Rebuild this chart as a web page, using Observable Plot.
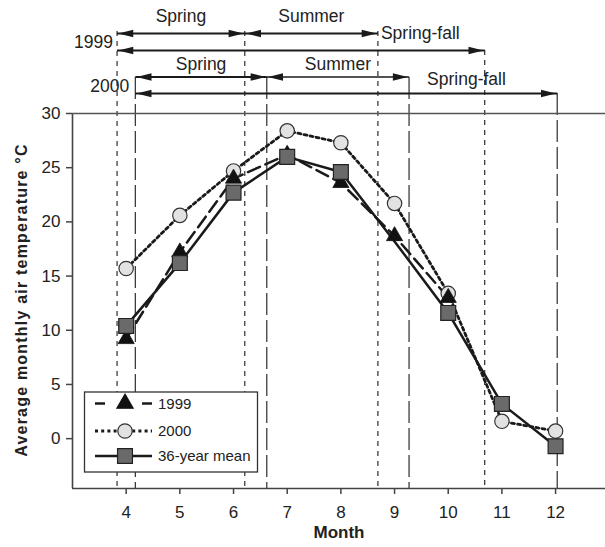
<!DOCTYPE html>
<html><head><meta charset="utf-8">
<script src="https://cdn.jsdelivr.net/npm/d3@7"></script>
<script src="https://cdn.jsdelivr.net/npm/@observablehq/plot@0.6"></script>
<style>
body{margin:0;background:#fff}
#chart svg{display:block}
</style>
</head><body><div id="chart"></div>
<script>
// ---- data ----
const months = [4, 5, 6, 7, 8, 9, 10, 11, 12];
const temp1999 = [9.2, 17.2, 24.0, 26.2, 23.6, 18.7, 13.0];           // months 4-10
const temp2000 = [15.7, 20.6, 24.7, 28.4, 27.3, 21.7, 13.4, 1.6, 0.7];
const tempMean = [10.4, 16.2, 22.7, 26.0, 24.6, 18.2, 11.6, 3.2, -0.7];
const bounds1999 = [3.83, 6.21, 8.69, 10.68]; // spring start, summer start, summer end, spring-fall end
const bounds2000 = [4.17, 6.62, 9.27, 12.03];
const seasonNames = ["Spring", "Summer", "Spring-fall"];
const yearNames = ["1999", "2000"];
const seriesNames = ["1999", "2000", "36-year mean"];
const yTitle = "Average monthly air temperature °C";
const xTitle = "Month";
const yTicks = [0, 5, 10, 15, 20, 25, 30];
const xTicks = months;
const xDomain = [3, 12.93];
const yDomain = [-4.6, 30];

// ---- tables ----
const s1999 = temp1999.map((t, i) => ({month: months[i], t}));
const s2000 = temp2000.map((t, i) => ({month: months[i], t}));
const sMean = tempMean.map((t, i) => ({month: months[i], t}));
const yTop = yDomain[1];

const ink = "#1a1a1a";
const font = "'Liberation Sans', Arial, sans-serif";
const headR = {draw(ctx){ctx.moveTo(0,0);ctx.lineTo(-15,-3.8);ctx.lineTo(-15,3.8);ctx.closePath();}};
const headL = {draw(ctx){ctx.moveTo(0,0);ctx.lineTo(15,-3.8);ctx.lineTo(15,3.8);ctx.closePath();}};

function arrow(x1, x2, dy, sw) {
  const d = [{x1, x2}];
  return [
    Plot.link(d, {x1: "x1", x2: "x2", y1: () => yTop, y2: () => yTop, dy, stroke: ink, strokeWidth: sw}),
    Plot.dot(d, {x: "x2", y: () => yTop, dy, dx: -1.2, symbol: headR, fill: ink, stroke: "none"}),
    Plot.dot(d, {x: "x1", y: () => yTop, dy, dx: 1.2, symbol: headL, fill: ink, stroke: "none"})
  ];
}

function yearMarks(year, b, o, dash) {
  const labels = [
    {x: (b[0] + b[1]) / 2, text: seasonNames[0]},
    {x: (b[1] + b[2]) / 2, text: seasonNames[1]}
  ];
  return [
    Plot.ruleX(b.slice(0, 3), {insetTop: o.ruleTop, stroke: ink, strokeWidth: 1.1, strokeDasharray: dash}),
    Plot.ruleX([b[3]], {insetTop: o.ruleEnd, stroke: ink, strokeWidth: 1.1, strokeDasharray: dash}),
    ...arrow(b[0], b[1], o.row1, 2),
    ...arrow(b[1], b[2], o.row1, o.sumW),
    ...arrow(b[0], b[3], o.row2, 2.2),
    Plot.text(labels, {x: "x", y: () => yTop, dy: o.lab, text: "text", fontSize: 17.5, fill: "#222"}),
    Plot.text([{x: b[2], text: seasonNames[2]}], {x: "x", y: () => yTop, dy: o.sf, dx: o.sfDx, text: "text", textAnchor: "start", fontSize: 17.5, fill: "#222"}),
    Plot.text([{x: b[0], text: year}], {x: "x", y: () => yTop, dy: o.yr, dx: o.yrDx, text: "text", textAnchor: "end", fontSize: 17.5, fill: "#222"})
  ];
}

const plot = Plot.plot({
  width: 605,
  height: 547,
  marginLeft: 72,
  marginRight: 0,
  marginTop: 113,
  marginBottom: 59,
  x: {domain: xDomain},
  y: {domain: yDomain},
  style: {fontFamily: font, color: "#333", background: "white"},
  marks: [
    // boundaries and season annotations
    ...yearMarks(yearNames[0], bounds1999, {ruleTop: -82, ruleEnd: -63, row1: -80, row2: -63, lab: -97, sf: -80, sfDx: 3, yr: -71, yrDx: -4, sumW: 2}, "5,5"),
    ...yearMarks(yearNames[1], bounds2000, {ruleTop: -36, ruleEnd: -20, row1: -36.5, row2: -20, lab: -49, sf: -34, sfDx: 18, yr: -27.5, yrDx: -6, sumW: 1.5}, "22,5"),
    // axes frame
    Plot.ruleX([xDomain[0]], {stroke: "#444", strokeWidth: 1.6}),
    Plot.ruleY([yDomain[0]], {stroke: "#444", strokeWidth: 1.6}),
    Plot.ruleY([yDomain[1]], {stroke: "#555", strokeWidth: 1.6}),
    Plot.axisY({ticks: yTicks, tickSize: 6, tickPadding: 6, fontSize: 17, label: null, strokeWidth: 1.5, stroke: "#444", fill: "#222"}),
    Plot.axisX({ticks: xTicks, tickSize: 6, tickPadding: 11, fontSize: 17, label: null, strokeWidth: 1.5, stroke: "#444", fill: "#222"}),
    Plot.text([xTitle], {frameAnchor: "bottom", dy: 49, fontSize: 17, fontWeight: "bold", fill: "#222"}),
    // series lines
    Plot.line(s2000, {x: "month", y: "t", stroke: ink, strokeWidth: 2.8, strokeDasharray: "3,3.2"}),
    Plot.line(s1999, {x: "month", y: "t", stroke: ink, strokeWidth: 2.5, strokeDasharray: "13,6"}),
    Plot.line(sMean, {x: "month", y: "t", stroke: ink, strokeWidth: 2.5}),
    // markers
    Plot.dot(s2000, {x: "month", y: "t", r: 7.2, fill: "#e2e2e2", stroke: "#333", strokeWidth: 1.2}),
    Plot.dot(s1999, {x: "month", y: "t", r: 6, symbol: "triangle", fill: "#111", stroke: "#111", strokeWidth: 0.8}),
    Plot.dot(sMean, {x: "month", y: "t", r: 8.4, symbol: "square", fill: "#6a6a6a", stroke: "#222", strokeWidth: 1.2, filter: d => d.month !== 9})
  ]
});
document.getElementById("chart").appendChild(plot);

const svg = d3.select(plot);

// ---- y axis title (letter-spaced, as in the reference) ----
svg.append("text")
  .attr("transform", "translate(21,300) rotate(-90)")
  .attr("text-anchor", "middle").attr("dy", "0.35em")
  .attr("font-family", font).attr("font-size", 16).attr("font-weight", "bold")
  .attr("letter-spacing", 1.2).attr("fill", "#222")
  .text(yTitle);

// ---- legend (inside the plot area) ----
const lg = svg.append("g").attr("font-family", font).attr("text-anchor", "start");
lg.append("rect").attr("x", 84.5).attr("y", 392).attr("width", 173).attr("height", 80)
  .attr("fill", "white").attr("stroke", "#333").attr("stroke-width", 1.3);
const legendItems = [
  {label: seriesNames[0], y: 403.5, sym: d3.symbolTriangle, r: 6, fill: "#111", stroke: "#111", kind: "dash"},
  {label: seriesNames[1], y: 431, sym: d3.symbolCircle, r: 7.2, fill: "#e2e2e2", stroke: "#333", kind: "dot"},
  {label: seriesNames[2], y: 456, sym: d3.symbolSquare, r: 8.4, fill: "#6a6a6a", stroke: "#222", kind: "solid"}
];
for (const it of legendItems) {
  if (it.kind === "dash") {
    lg.append("line").attr("x1", 95).attr("x2", 105).attr("y1", it.y).attr("y2", it.y).attr("stroke", ink).attr("stroke-width", 2.5);
    lg.append("line").attr("x1", 142).attr("x2", 152).attr("y1", it.y).attr("y2", it.y).attr("stroke", ink).attr("stroke-width", 2.5);
  } else {
    lg.append("line").attr("x1", 95).attr("x2", 152).attr("y1", it.y).attr("y2", it.y)
      .attr("stroke", ink).attr("stroke-width", it.kind === "dot" ? 2.8 : 2.5)
      .attr("stroke-dasharray", it.kind === "dot" ? "3,3.2" : null);
  }
  lg.append("path").attr("transform", `translate(125,${it.y})`)
    .attr("d", d3.symbol().type(it.sym).size(Math.PI * it.r * it.r)())
    .attr("fill", it.fill).attr("stroke", it.stroke).attr("stroke-width", 1.2);
  lg.append("text").attr("x", 158).attr("y", it.y).attr("dy", "0.35em")
    .attr("text-anchor", "start")
    .attr("font-size", 15).attr("fill", "#222").text(it.label);
}
</script>
</body></html>
